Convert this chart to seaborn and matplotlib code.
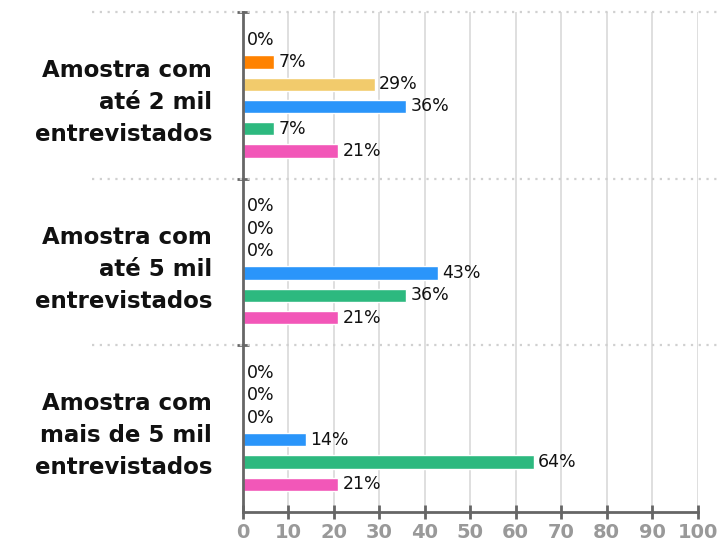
import pandas as pd
import matplotlib.pyplot as plt
import seaborn as sns

# Dados
categorias = ["Amostra com\naté 2 mil\nentrevistados",
              "Amostra com\naté 5 mil\nentrevistados",
              "Amostra com\nmais de 5 mil\nentrevistados"]
series = ["Opção 1", "Opção 2", "Opção 3", "Opção 4", "Opção 5", "Opção 6"]
valores_2mil = [0, 7, 29, 36, 7, 21]
valores_5mil = [0, 0, 0, 43, 36, 21]
valores_mais_5mil = [0, 0, 0, 14, 64, 21]
cores = ["#9B59B6", "#FF8200", "#F2CB6C", "#2A95FA", "#2DB97F", "#F257B8"]
ticks_x = [0, 10, 20, 30, 40, 50, 60, 70, 80, 90, 100]

linhas = []
for cat, vals in zip(categorias, [valores_2mil, valores_5mil, valores_mais_5mil]):
    for s, v in zip(series, vals):
        linhas.append({"amostra": cat, "resposta": s, "valor": v})
df = pd.DataFrame(linhas)

sns.set_style("white")
plt.rcParams["font.family"] = ["DejaVu Sans"]

fig = plt.figure(figsize=(7.2, 5.47), dpi=100)
ax = fig.add_axes([0.337, 0.064, 0.632, 0.914])

sns.barplot(data=df, y="amostra", x="valor", hue="resposta", palette=cores,
            orient="h", width=0.8, gap=0.4, saturation=1, legend=False,
            ax=ax, zorder=3)

# rótulos de valor
for cont in ax.containers:
    ax.bar_label(cont, labels=[f"{v:.0f}%" for v in cont.datavalues],
                 padding=3, fontsize=12.5, color="#111111")

ax.set_xlim(0, 100)
ax.set_ylim(2.5, -0.5)
ax.set_xticks(ticks_x)
ax.set_xlabel("")
ax.set_ylabel("")

# grade vertical
ax.grid(axis="x", color="#d9d9d9", linewidth=1.2, zorder=0)
ax.grid(axis="y", visible=False)

# separadores pontilhados entre grupos
for y in [-0.5, 0.5, 1.5]:
    ax.axhline(y, xmin=-0.33, xmax=1.05, color="#d0d0d0", linestyle=(0, (1, 2.5)),
               linewidth=1.6, clip_on=False, zorder=1)

# eixos
for lado in ["top", "right"]:
    ax.spines[lado].set_visible(False)
for lado in ["left", "bottom"]:
    ax.spines[lado].set_color("#666666")
    ax.spines[lado].set_linewidth(2)
    ax.spines[lado].set_zorder(4)

ax.tick_params(axis="x", bottom=True, direction="inout", length=10, width=2,
               color="#666666", labelsize=14, labelcolor="#999999", pad=3)
for lbl in ax.get_xticklabels():
    lbl.set_fontweight("bold")

ax.set_yticks([0, 1, 2])
ax.set_yticklabels(categorias, fontsize=16.5, fontweight="bold", color="#111111",
                   linespacing=1.5)
ax.tick_params(axis="y", which="major", left=False, length=0, pad=22)
ax.set_yticks([-0.5, 0.5, 1.5], minor=True)
ax.tick_params(axis="y", which="minor", left=True, direction="inout", length=9,
               width=2, color="#666666")

fig.savefig("out.png", dpi=100)
